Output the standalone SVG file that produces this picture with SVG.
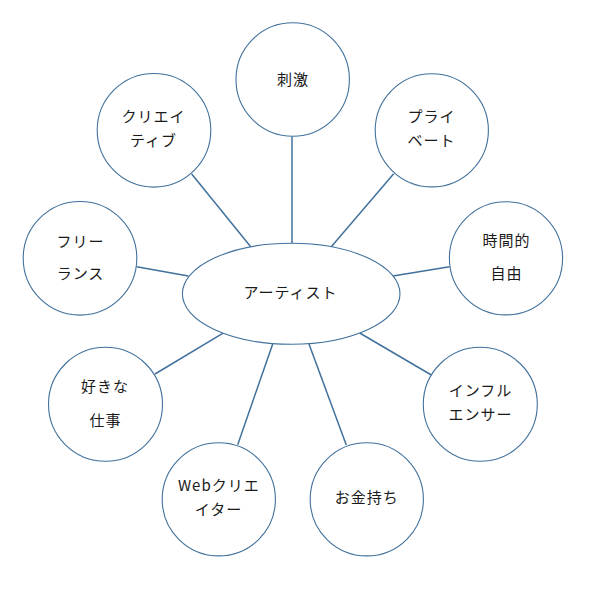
<svg xmlns="http://www.w3.org/2000/svg" width="593" height="589" viewBox="0 0 593 589">
<style>
.n{fill:#FFFFFF;stroke:#41719C;stroke-width:1.1}
.c line{stroke:#41719C;stroke-width:1.5}
text{font-family:"Noto Sans CJK JP","Noto Sans CJK SC",sans-serif;font-size:15px;fill:#1A1A1A;text-anchor:middle;letter-spacing:1px}
</style>
<rect width="593" height="589" fill="#FFFFFF"/>
<g id="connectors" class="c">
<line x1="292" y1="136.7" x2="292" y2="243.5"/>
<line x1="191.7" y1="174" x2="250.7" y2="246.7"/>
<line x1="136.7" y1="266.7" x2="188.3" y2="276"/>
<line x1="393.7" y1="173.7" x2="331.3" y2="246.7"/>
<line x1="449.5" y1="266.7" x2="393" y2="276"/>
<line x1="155" y1="374" x2="222.7" y2="333.3"/>
<line x1="237.7" y1="444.7" x2="272.7" y2="344"/>
<line x1="346.3" y1="445" x2="309" y2="344"/>
<line x1="431.3" y1="375" x2="359.7" y2="333"/>
</g>
<g id="node-artist">
<ellipse class="n" cx="291.2" cy="293.8" rx="108.8" ry="50.5"/>
<text x="290.5" y="298">アーティスト</text>
</g>
<g id="node-shigeki">
<circle class="n" cx="292.7" cy="79.5" r="56.7"/>
<text x="293" y="84.5">刺激</text>
</g>
<g id="node-creative">
<circle class="n" cx="154" cy="130.3" r="56.8"/>
<text x="153.5" y="121.5">クリエイ</text>
<text x="153.5" y="145.5">ティブ</text>
</g>
<g id="node-private">
<circle class="n" cx="431.8" cy="130.3" r="56.6"/>
<text x="431.5" y="121.5">プライ</text>
<text x="431.5" y="145.5">ベート</text>
</g>
<g id="node-freelance">
<circle class="n" cx="80" cy="258.3" r="56.8"/>
<text x="80.5" y="246.5">フリー</text>
<text x="80.5" y="278.5">ランス</text>
</g>
<g id="node-jikan">
<circle class="n" cx="506" cy="258.3" r="56.6"/>
<text x="506.5" y="245.5">時間的</text>
<text x="506.5" y="278.5">自由</text>
</g>
<g id="node-sukina">
<circle class="n" cx="105.5" cy="404.3" r="57"/>
<text x="105" y="391.5">好きな</text>
<text x="105.5" y="425.5">仕事</text>
</g>
<g id="node-influencer">
<circle class="n" cx="480.3" cy="404.3" r="57"/>
<text x="480.5" y="395.5">インフル</text>
<text x="480.5" y="419.5">エンサー</text>
</g>
<g id="node-web">
<circle class="n" cx="218.8" cy="499.3" r="56.6"/>
<text x="218.8" y="491">Webクリエ</text>
<text x="218.5" y="514.5">イター</text>
</g>
<g id="node-kanemochi">
<circle class="n" cx="366.8" cy="499.3" r="56.6"/>
<text x="366.8" y="502.5">お金持ち</text>
</g>
</svg>
